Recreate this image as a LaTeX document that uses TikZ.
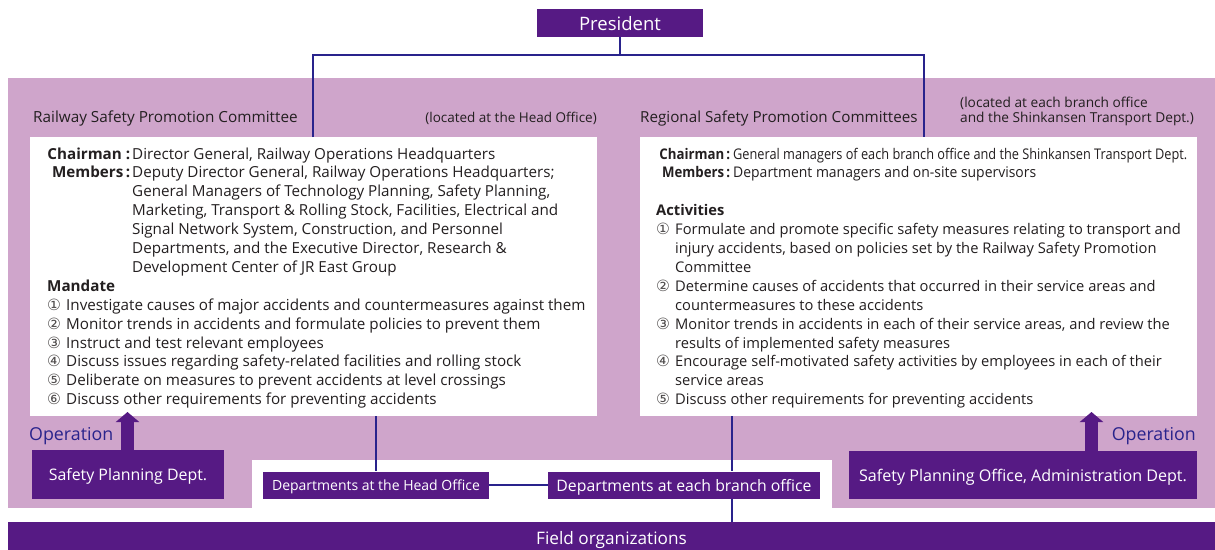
\documentclass[tikz,border=0pt]{standalone}
\usepackage{fontspec}
\setmainfont{Open Sans}
\newfontfamily\symf{DejaVu Sans}
\usepackage{graphicx}
\usetikzlibrary{arrows.meta}
\definecolor{purp}{HTML}{561A84}
\definecolor{lav}{HTML}{CFA5CB}
\definecolor{navy}{HTML}{29238C}
\definecolor{txt}{HTML}{231F20}
\newcommand{\cnum}[1]{\makebox[19pt][l]{{\symf\fontsize{15.5}{15.5}\selectfont\color{txt!80}#1}}}
\newcommand{\hang}{\hspace*{19pt}}
\newcommand{\lab}[2]{\makebox[#1][r]{\bfseries #2}}
\newcommand{\rlab}[2]{\makebox[#1][r]{\scalebox{0.9}[1]{\bfseries #2}}}
\tikzset{
  pbox/.style={fill=purp, text=white, inner sep=0pt, anchor=center, text depth=0pt},
  wbox/.style={fill=white, inner sep=0pt, anchor=north west},
  conn/.style={draw=navy, line width=2pt},
  oparrow/.style={purp, line width=13pt, -{Triangle[width=23pt,length=10pt]}},
  optext/.style={text=navy, inner sep=0pt, font=\fontsize{17.8}{17.8}\selectfont},
  ttl/.style={text=txt, inner sep=0pt, anchor=base west},
  body/.style={text=txt, inner sep=0pt, anchor=base west},
}
\begin{document}
\begin{tikzpicture}[x=1pt,y=-1pt]
\useasboundingbox (0,0) rectangle (1215,549);
\fill[lav] (8,78) rectangle (1215,508);
\fill[white] (252,460) rectangle (832,508);

% president
\node[pbox, minimum width=166pt, minimum height=28pt, font=\fontsize{18.5}{18.5}\selectfont] (pres) at (620,23) {President};

% committee boxes
\node[wbox, minimum width=567pt, minimum height=279pt] (lbox) at (30,137) {};
\node[wbox, minimum width=557pt, minimum height=279pt] (rbox) at (640,137) {};

% titles
\node[ttl, font=\fontsize{15.3}{15.3}\selectfont] (ltitle) at (33,122) {Railway Safety Promotion Committee};
\node[ttl, anchor=base east, font=\fontsize{13.5}{13.5}\selectfont] (lloc) at (597,122) {(located at the Head Office)};
\node[ttl, font=\fontsize{15.2}{15.2}\selectfont] (rtitle) at (640,122) {Regional Safety Promotion Committees};
\node[ttl, font=\fontsize{13.7}{15}\selectfont, align=left, anchor=base west] (rloc) at (960,122) {(located at each branch office\\and the Shinkansen Transport Dept.)};

% connectors from president
\coordinate (hl) at (313,55);
\coordinate (hr) at (924,55);
\coordinate (lt) at (313,137);
\coordinate (rt) at (924,137);
\draw[conn] (lt) -- (hl) -- (hr) -- (rt);
\draw[conn] (pres.south) -- (pres.south |- hl);

% left body
\node[body, font=\fontsize{15.2}{18.9}\selectfont] (ltext) at (47,159) {\begin{tabular}[t]{@{}l@{}}
\lab{83pt}{Chairman :}\hspace{2pt}Director General, Railway Operations Headquarters\\
\lab{83pt}{Members\,:}\hspace{2pt}Deputy Director General, Railway Operations Headquarters;\\
\hspace*{85pt}General Managers of Technology Planning, Safety Planning,\\
\hspace*{85pt}Marketing, Transport \& Rolling Stock, Facilities, Electrical and\\
\hspace*{85pt}Signal Network System, Construction, and Personnel\\
\hspace*{85pt}Departments, and the Executive Director, Research \&\\
\hspace*{85pt}Development Center of JR East Group\\
\textbf{Mandate}\\
\cnum{①}Investigate causes of major accidents and countermeasures against them\\
\cnum{②}Monitor trends in accidents and formulate policies to prevent them\\
\cnum{③}Instruct and test relevant employees\\
\cnum{④}Discuss issues regarding safety-related facilities and rolling stock\\
\cnum{⑤}Deliberate on measures to prevent accidents at level crossings\\
\cnum{⑥}Discuss other requirements for preventing accidents
\end{tabular}};

% right body
\node[body, font=\fontsize{14.7}{18.9}\selectfont] (rtext) at (656,159) {\begin{tabular}[t]{@{}l@{}}
\rlab{74pt}{Chairman\,:}\hspace{3pt}\resizebox{454pt}{\height}{General managers of each branch office and the Shinkansen Transport Dept.}\\
\rlab{74pt}{Members\,:}\hspace{3pt}\resizebox{303pt}{\height}{Department managers and on-site supervisors}\\
\mbox{}\\
\textbf{Activities}\\
\cnum{①}Formulate and promote specific safety measures relating to transport and\\
\hang injury accidents, based on policies set by the Railway Safety Promotion\\
\hang Committee\\
\cnum{②}Determine causes of accidents that occurred in their service areas and\\
\hang countermeasures to these accidents\\
\cnum{③}Monitor trends in accidents in each of their service areas, and review the\\
\hang results of implemented safety measures\\
\cnum{④}Encourage self-motivated safety activities by employees in each of their\\
\hang service areas\\
\cnum{⑤}Discuss other requirements for preventing accidents
\end{tabular}};

% lower connectors
\coordinate (lb) at (376,416);
\coordinate (rb) at (732,416);
\node[pbox, minimum width=226pt, minimum height=27pt, font=\fontsize{14}{14}\selectfont] (ho) at (376,485) {Departments at the Head Office};
\node[pbox, minimum width=272pt, minimum height=27pt, font=\fontsize{15.8}{15.8}\selectfont] (br) at (684,485) {Departments at each branch office};
\node[pbox, minimum width=1207pt, minimum height=32pt, font=\fontsize{17.2}{17.2}\selectfont] (field) at (611.5,538) {Field organizations};
\draw[conn] (lb) -- (lb |- ho.north);
\draw[conn] (ho.east) -- (br.west);
\draw[conn] (rb) -- (rb |- br.north);
\draw[conn] (rb |- br.south) -- (rb |- field.north);

% operation boxes
\node[pbox, minimum width=192pt, minimum height=49pt, font=\fontsize{15.9}{15.9}\selectfont] (spd) at (128,474.5) {Safety Planning Dept.};
\node[pbox, minimum width=348pt, minimum height=48pt, font=\fontsize{16.1}{16.1}\selectfont] (spo) at (1023,475) {Safety Planning Office, Administration Dept.};
\coordinate (la) at (127.5,412);
\coordinate (ra) at (1091.5,412);
\draw[oparrow] (spd.north -| la) -- (la);
\draw[oparrow] (spo.north -| ra) -- (ra);
\node[optext, anchor=west] (lop) at (29,436) {Operation};
\node[optext, anchor=east] (rop) at (1196,436) {Operation};
\end{tikzpicture}
\end{document}
